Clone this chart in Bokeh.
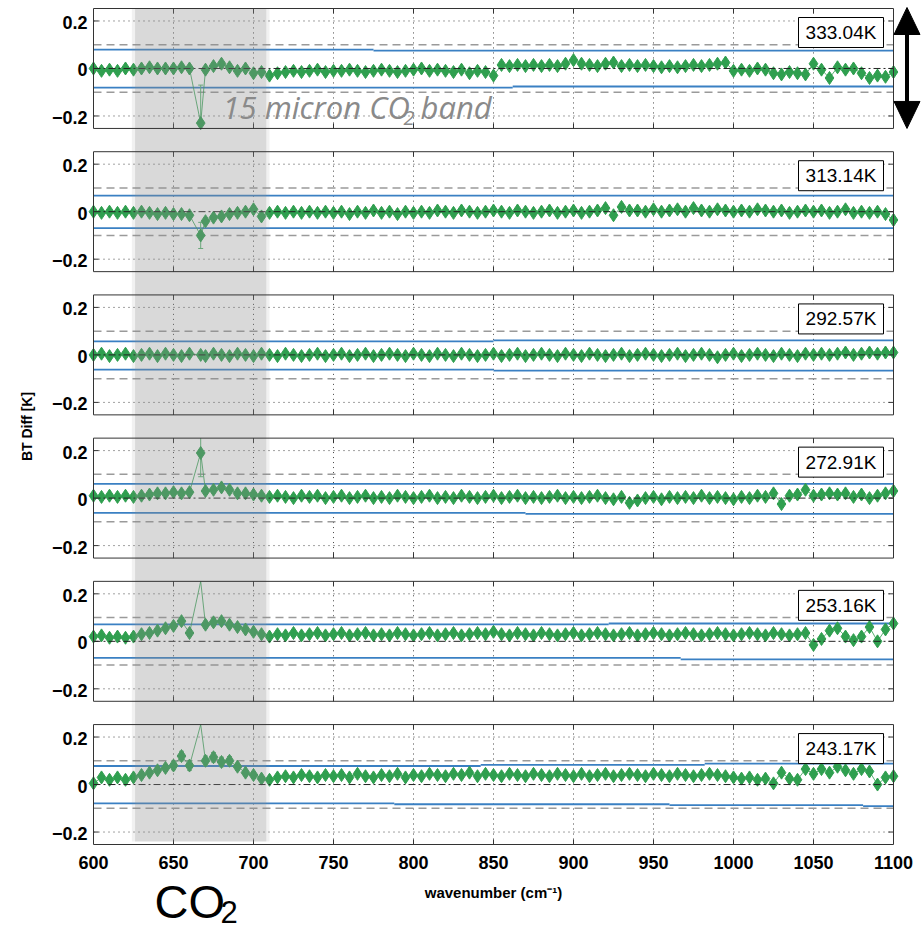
import numpy as np
from bokeh.plotting import figure
from bokeh.models import Range1d
from bokeh.core.properties import value
from bokeh.embed import file_html
from bokeh.resources import INLINE

# ---------------- data ----------------
WAVENUMBER = list(range(600, 1101, 5))
WAVENUMBER[13] = 667  # CO2 Q-branch sample

TEMPERATURES = ["333.04K", "313.14K", "292.57K", "272.91K", "253.16K", "243.17K"]

BT_333 = [0.0, -0.01, -0.005, -0.01, 0.0, -0.005, 0.0, 0.005, 0.0, 0.0, 0.0, 0.005, 0.0,
          -0.23,
          -0.005, 0.01, 0.02, 0.005, -0.01, 0.0, -0.02,
          -0.015, -0.03, -0.02, -0.015, -0.01, -0.015, -0.01, -0.005, -0.015, -0.01,
          -0.01, -0.005, -0.01, -0.015, -0.01, -0.005, -0.01, -0.015, -0.01, -0.005,
          0.0, -0.01, -0.005, -0.01, -0.015, -0.005, -0.02, -0.01, -0.015, -0.03,
          0.015, 0.01, 0.015, 0.01, 0.015, 0.01, 0.015, 0.01, 0.02, 0.035,
          0.02, 0.015, 0.01, 0.02, 0.025, 0.01, 0.015, 0.01, 0.015, 0.01,
          0.005, 0.01, 0.005, 0.01, 0.015, 0.01, 0.015, 0.02, 0.025, -0.01,
          -0.005, -0.01, 0.0, -0.005, -0.02, -0.025, -0.015, -0.02, -0.025, 0.02,
          -0.005, -0.04, 0.005, -0.005, 0.0, -0.02, -0.04, -0.03, -0.035, -0.015]

BT_313 = [0.0, -0.005, 0.0, -0.005, 0.0, -0.005, 0.0, -0.005, -0.01, -0.005, -0.01, -0.01, -0.015,
          -0.10,
          -0.04, -0.025, -0.02, -0.01, -0.005, 0.0, 0.01,
          -0.02, -0.005, 0.0, -0.005, 0.0, -0.005, 0.0, -0.005, 0.0, -0.005,
          0.0, -0.01, 0.0, -0.005, 0.005, -0.005, 0.0, -0.01, 0.0, -0.005,
          0.0, -0.005, 0.005, 0.0, -0.005, 0.005, 0.0, -0.005, 0.0, 0.005,
          0.0, -0.005, 0.005, 0.0, -0.005, 0.0, 0.005, -0.005, 0.0, 0.005,
          -0.005, 0.0, 0.005, 0.015, -0.015, 0.02, 0.005, 0.005, 0.0, 0.01,
          0.0, 0.005, 0.01, 0.0, 0.015, 0.005, 0.0, 0.01, 0.005, 0.0,
          0.005, 0.0, 0.01, 0.005, 0.0, 0.005, -0.005, 0.0, 0.005, 0.0,
          0.005, -0.005, 0.0, 0.01, -0.005, 0.0, -0.005, 0.0, -0.01, -0.035]

BT_292 = [0.0, 0.005, -0.005, 0.0, 0.005, -0.005, 0.0, 0.005, -0.005, 0.005, 0.0, -0.005, 0.005,
          0.0,
          -0.005, 0.005, 0.0, -0.005, 0.005, 0.0, -0.005,
          0.005, 0.0, -0.005, 0.005, 0.0, -0.005, 0.0, 0.005, -0.005, 0.0,
          0.005, -0.005, 0.0, 0.005, -0.005, 0.0, 0.005, 0.0, -0.005, 0.005,
          0.0, -0.005, 0.005, 0.0, -0.005, 0.005, 0.0, -0.005, 0.0, 0.005,
          -0.005, 0.0, 0.005, -0.005, 0.0, 0.005, 0.0, -0.005, 0.005, 0.0,
          -0.005, 0.005, 0.0, -0.005, 0.0, 0.005, -0.005, 0.0, 0.005, 0.0,
          -0.005, 0.0, 0.005, -0.005, 0.0, 0.005, 0.0, -0.01, 0.0, 0.005,
          -0.005, 0.0, 0.005, 0.0, -0.005, 0.005, 0.0, -0.005, 0.005, 0.0,
          0.005, 0.0, 0.005, 0.01, 0.0, 0.005, 0.01, 0.005, 0.01, 0.01]

BT_272 = [0.01, 0.005, 0.01, 0.005, 0.01, 0.005, 0.01, 0.015, 0.02, 0.02, 0.025, 0.02, 0.025,
          0.19,
          0.03, 0.035, 0.045, 0.035, 0.02, 0.02, 0.015,
          0.01, 0.005, 0.01, 0.005, 0.0, 0.01, 0.005, 0.01, 0.0, 0.005,
          0.01, 0.0, 0.005, 0.01, 0.0, 0.005, 0.0, 0.01, 0.005, 0.0,
          0.005, 0.01, 0.0, 0.005, 0.0, 0.01, 0.005, 0.0, 0.005, 0.01,
          0.0, 0.005, 0.01, 0.0, 0.005, 0.0, 0.005, 0.01, 0.0, 0.005,
          0.0, 0.005, 0.01, 0.0, -0.005, 0.005, -0.02, -0.01, 0.0, 0.005,
          -0.005, 0.005, 0.0, 0.005, 0.0, 0.01, 0.0, 0.005, 0.0, -0.005,
          0.005, 0.0, 0.01, 0.005, 0.02, -0.025, 0.01, 0.015, 0.035, 0.01,
          0.015, 0.02, 0.015, 0.02, 0.005, 0.015, 0.0, 0.01, 0.02, 0.03]

BT_253 = [0.02, 0.025, 0.015, 0.02, 0.015, 0.02, 0.03, 0.035, 0.045, 0.055, 0.065, 0.085, 0.035,
          0.40,
          0.07, 0.08, 0.085, 0.07, 0.06, 0.05, 0.04,
          0.03, 0.02, 0.03, 0.025, 0.035, 0.025, 0.03, 0.035, 0.025, 0.03,
          0.035, 0.025, 0.03, 0.035, 0.025, 0.03, 0.025, 0.035, 0.03, 0.025,
          0.03, 0.035, 0.025, 0.03, 0.035, 0.025, 0.03, 0.035, 0.03, 0.04,
          0.03, 0.025, 0.035, 0.03, 0.025, 0.035, 0.03, 0.025, 0.03, 0.035,
          0.025, 0.03, 0.035, 0.03, 0.025, 0.03, 0.035, 0.025, 0.03, 0.035,
          0.03, 0.025, 0.03, 0.035, 0.03, 0.025, 0.03, 0.035, 0.03, 0.025,
          0.03, 0.035, 0.03, 0.025, 0.035, 0.03, 0.025, 0.03, 0.035, -0.015,
          0.01, 0.045, 0.055, 0.02, 0.005, 0.02, 0.06, 0.0, 0.05, 0.075]

BT_243 = [0.005, 0.03, 0.02, 0.03, 0.02, 0.03, 0.04, 0.05, 0.06, 0.07, 0.08, 0.12, 0.08,
          0.45,
          0.10, 0.115, 0.095, 0.10, 0.075, 0.05, 0.04,
          0.025, 0.02, 0.03, 0.035, 0.03, 0.04, 0.035, 0.03, 0.04, 0.035,
          0.04, 0.03, 0.045, 0.035, 0.03, 0.04, 0.035, 0.045, 0.03, 0.04,
          0.035, 0.045, 0.04, 0.035, 0.045, 0.04, 0.05, 0.035, 0.045, 0.04,
          0.035, 0.045, 0.04, 0.035, 0.045, 0.04, 0.035, 0.045, 0.04, 0.035,
          0.045, 0.035, 0.04, 0.045, 0.035, 0.04, 0.045, 0.04, 0.035, 0.045,
          0.04, 0.035, 0.045, 0.04, 0.035, 0.04, 0.045, 0.04, 0.035, 0.03,
          0.025, 0.03, 0.02, 0.025, 0.005, 0.05, 0.025, 0.02, 0.065, 0.045,
          0.065, 0.05, 0.075, 0.06, 0.045, 0.065, 0.055, 0.0, 0.03, 0.035]

SERIES = [BT_333, BT_313, BT_292, BT_272, BT_253, BT_243]

# error bars: (wavenumber, half-width)
ERR_333 = [(667, 0.16)]
ERR_313 = [(667, 0.055)]
ERR_292 = []
ERR_272 = [(667, 0.10), (670, 0.012), (675, 0.012), (680, 0.012)]
ERR_253 = [(645, 0.012), (650, 0.012), (655, 0.015), (660, 0.012), (670, 0.015),
           (675, 0.015), (680, 0.015), (685, 0.012), (690, 0.012)]
ERR_243 = [(640, 0.012), (645, 0.015), (650, 0.018), (655, 0.02), (660, 0.02), (670, 0.02),
           (675, 0.02), (680, 0.02), (685, 0.018), (690, 0.015), (695, 0.012)]
ERRORS = [ERR_333, ERR_313, ERR_292, ERR_272, ERR_253, ERR_243]

# blue uncertainty lines: (from, to, value)
BLUE_UP = [[(600, 775, 0.079), (775, 1100, 0.075)],
           [(600, 1100, 0.068)],
           [(600, 850, 0.057), (850, 1100, 0.061)],
           [(600, 1100, 0.060)],
           [(600, 922, 0.071), (922, 1100, 0.075)],
           [(600, 842, 0.078), (842, 982, 0.083), (982, 1100, 0.088)]]
BLUE_LO = [[(600, 862, -0.081), (862, 1100, -0.076)],
           [(600, 1100, -0.069)],
           [(600, 850, -0.062), (850, 1100, -0.066)],
           [(600, 870, -0.062), (870, 1100, -0.066)],
           [(600, 967, -0.070), (967, 1100, -0.076)],
           [(600, 788, -0.079), (788, 960, -0.083), (960, 1081, -0.087), (1081, 1100, -0.091)]]

THRESH = 0.1
X_TICKS = [600, 650, 700, 750, 800, 850, 900, 950, 1000, 1050, 1100]
X_TICK_LABELS = ["600", "650", "700", "750", "800", "850", "900", "950", "1000", "1050", "1100"]
Y_TICKS = [0.2, 0.0, -0.2]
Y_TICK_LABELS = ["0.2", "0", "\u22120.2"]
BAND = (626, 708)
X_LABEL = "wavenumber (cm\u207b\u00b9)"
Y_LABEL = "BT Diff [K]"

# ---------------- layout ----------------
W, H = 923, 928
PXX = 1.6        # px per cm^-1
PXY = 237.5      # px per K
LEFT_PX = 93     # pixel of 600 cm^-1
TOP_PX = 8       # pixel of top panel's upper edge
LIM = 0.2525
PITCH = 0.603
offsets = [-k * PITCH for k in range(6)]
ymin = offsets[-1] - LIM


def dx(px):
    return px / PXX


def dy(px):
    return px / PXY


def xpx(px):
    return 600 + (px - LEFT_PX) / PXX


def ypx(px):
    return LIM - (px - TOP_PX) / PXY


GREEN = "#2f9f4f"
GREEN_ERR = "#5bb574"
BLUE = "#3a80c3"
GREY = "#9a9a9a"
FRAME = "#333333"

p = figure(width=W, height=H,
           x_range=Range1d(xpx(0), xpx(W)),
           y_range=Range1d(ypx(H), ypx(0)),
           min_border=0, x_axis_location=None, y_axis_location=None,
           output_backend="svg", toolbar_location=None)
p.outline_line_color = None
p.xgrid.visible = False
p.ygrid.visible = False

wn = np.array(WAVENUMBER, dtype=float)
x_in = [t for t in X_TICKS if 600 < t < 1100]

for k, off in enumerate(offsets):
    # dotted grid
    p.segment(x0=[600] * 2, x1=[1100] * 2, y0=[off + 0.2, off - 0.2], y1=[off + 0.2, off - 0.2],
              line_color="#444444", line_width=1, line_dash="1 4")
    p.segment(x0=x_in, x1=x_in, y0=[off - LIM] * len(x_in), y1=[off + LIM] * len(x_in),
              line_color="#444444", line_width=1, line_dash="1 4")
    # ticks (inside)
    p.segment(x0=x_in, x1=x_in, y0=[off - LIM] * len(x_in), y1=[off - LIM + dy(5)] * len(x_in),
              line_color=FRAME, line_width=1)
    p.segment(x0=x_in, x1=x_in, y0=[off + LIM] * len(x_in), y1=[off + LIM - dy(5)] * len(x_in),
              line_color=FRAME, line_width=1)
    yt = [off + v for v in Y_TICKS]
    p.segment(x0=[600] * 3, x1=[600 + dx(5)] * 3, y0=yt, y1=yt, line_color=FRAME, line_width=1)
    p.segment(x0=[1100] * 3, x1=[1100 - dx(5)] * 3, y0=yt, y1=yt, line_color=FRAME, line_width=1)
    # grey thresholds
    p.segment(x0=[600] * 2, x1=[1100] * 2, y0=[off + THRESH, off - THRESH], y1=[off + THRESH, off - THRESH],
              line_color=GREY, line_width=1.5, line_dash="8 5")
    # blue lines
    for seg in BLUE_UP[k] + BLUE_LO[k]:
        p.segment(x0=[seg[0]], x1=[seg[1]], y0=[off + seg[2]], y1=[off + seg[2]],
                  line_color=BLUE, line_width=1.8)
    vals = np.array(SERIES[k], dtype=float)
    # error bars
    if ERRORS[k]:
        ex, elo, ehi, cx, cy = [], [], [], [], []
        for (xv, e) in ERRORS[k]:
            v = vals[WAVENUMBER.index(xv)]
            lo, hi = v - e, v + e
            ex.append(xv)
            elo.append(off + max(lo, -LIM))
            ehi.append(off + min(hi, LIM))
            for c in (lo, hi):
                if -LIM <= c <= LIM:
                    cx.append(xv)
                    cy.append(off + c)
        p.segment(x0=ex, x1=ex, y0=elo, y1=ehi, line_color=GREEN_ERR, line_width=1)
        p.scatter(cx, cy, marker="dash", size=5, line_color=GREEN_ERR, line_width=1)
    # data line and markers
    p.line(wn, np.clip(vals, -LIM, LIM) + off, line_color=GREEN, line_width=1, line_alpha=0.8)
    m = np.abs(vals) <= LIM
    p.scatter(wn[m], vals[m] + off, marker="diamond", size=13,
              fill_color=GREEN, line_color=GREEN, line_width=1)
    # zero line
    p.segment(x0=[600], x1=[1100], y0=[off], y1=[off], line_color="#222222",
              line_width=1, line_dash="7 3 2 3")

# shaded CO2 band (over the data)
band_bottom = ymin + dy(3)
p.quad(left=[BAND[0]], right=[BAND[1]], bottom=[band_bottom], top=[LIM],
       fill_color="#8c8c8c", fill_alpha=0.33, line_color=None)
p.quad(left=[BAND[0] - 2, BAND[1]], right=[BAND[0], BAND[1] + 2], bottom=[band_bottom] * 2, top=[LIM] * 2,
       fill_color="#8c8c8c", fill_alpha=0.12, line_color=None)

# panel frames
p.quad(left=[600] * 6, right=[1100] * 6, bottom=[o - LIM for o in offsets], top=[o + LIM for o in offsets],
       fill_color=None, line_color=FRAME, line_width=1)

# temperature boxes
box_w, box_h = dx(85), dy(30)
box_right = 1100 - dx(10)
box_top = [o + LIM - dy(9) for o in offsets]
p.quad(left=[box_right - box_w] * 6, right=[box_right] * 6, top=box_top,
       bottom=[t - box_h for t in box_top], fill_color="white", line_color="black", line_width=1)
p.text(x=[box_right - box_w / 2] * 6, y=[t - box_h / 2 for t in box_top], text=TEMPERATURES,
       text_align="center", text_baseline="middle", text_font=value("Liberation Sans"),
       text_font_size="19px", text_color="black")

# tick labels
ytick_y, ytick_t = [], []
for o in offsets:
    for v, t in zip(Y_TICKS, Y_TICK_LABELS):
        ytick_y.append(o + v - dy(1.5))
        ytick_t.append(t)
p.text(x=[600 - dx(6)] * len(ytick_y), y=ytick_y, text=ytick_t, text_align="right",
       text_baseline="middle", text_font=value("Liberation Sans"), text_font_style="bold",
       text_font_size="18px", text_color="black")
p.text(x=X_TICKS, y=[ypx(862)] * len(X_TICKS), text=X_TICK_LABELS, text_align="center",
       text_baseline="middle", text_font=value("Liberation Sans"), text_font_style="bold",
       text_font_size="18px", text_color="black")

# axis labels
p.text(x=[850], y=[ypx(892)], text=[X_LABEL], text_align="center", text_baseline="middle",
       text_font=value("Liberation Sans"), text_font_style="bold", text_font_size="15px",
       text_color="black")
p.text(x=[xpx(26)], y=[(LIM + ymin) / 2], text=[Y_LABEL], angle=np.pi / 2,
       text_align="center", text_baseline="middle", text_font=value("Liberation Sans"),
       text_font_style="bold", text_font_size="14px", text_color="black")

# band annotation text in top panel
ann = dict(text_font=value("Open Sans"), text_font_style="italic", text_color="#8a8a8a",
           text_baseline="middle", text_align="left")
p.text(x=[xpx(222)], y=[ypx(106)], text=["15 micron CO"], text_font_size="31px", **ann)
p.text(x=[xpx(403)], y=[ypx(117)], text=["2"], text_font_size="20px", **ann)
p.text(x=[xpx(420)], y=[ypx(106)], text=["band"], text_font_size="31px", **ann)

# big CO2 label below the band
p.text(x=[xpx(154)], y=[ypx(901)], text=["CO"], text_font=value("Liberation Sans"),
       text_font_size="47px", text_color="black", text_baseline="middle", text_align="left")
p.text(x=[xpx(220)], y=[ypx(911)], text=["2"], text_font=value("Liberation Sans"),
       text_font_size="31px", text_color="black", text_baseline="middle", text_align="left")

# double arrow to the right of the top panel
ax = xpx(906.5)
head_len, head_half = dy(27), dx(13)
y_top, y_bot = LIM + dy(1), -LIM
p.segment(x0=[ax], x1=[ax], y0=[y_bot + head_len * 0.9], y1=[y_top - head_len * 0.9],
          line_color="black", line_width=4)
p.patches(xs=[[ax - head_half, ax, ax + head_half], [ax - head_half, ax, ax + head_half]],
          ys=[[y_top - head_len, y_top, y_top - head_len], [y_bot + head_len, y_bot, y_bot + head_len]],
          fill_color="black", line_color="black", line_width=1)

open("out.html", "w").write(file_html(p, INLINE))
